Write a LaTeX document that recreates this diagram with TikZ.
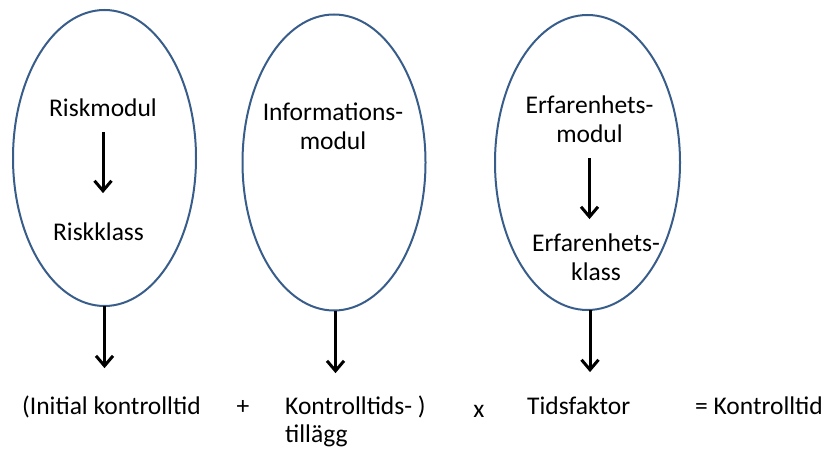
\documentclass[tikz,border=0pt]{standalone}
\usepackage{fontspec}
\setmainfont{Carlito}
\usetikzlibrary{shapes.geometric,arrows.meta}
\definecolor{ellblue}{RGB}{56,93,138}
\begin{document}
\begin{tikzpicture}[x=1pt,y=-1pt,
  mod/.style={ellipse,draw=ellblue,line width=2pt,inner sep=0pt,outer sep=0pt,minimum width=183pt,minimum height=296pt},
  lbl/.style={inner sep=0pt,font=\fontsize{25.5}{29}\selectfont,align=center},
  lbll/.style={inner sep=0pt,font=\fontsize{25.5}{28}\selectfont,align=left},
  arr/.style={line width=3pt,-{Straight Barb[length=10pt,width=17pt,line width=3pt]}}]
\useasboundingbox (0,0) rectangle (824,449);
\node[mod] (e1) at (104.5,158) {};
\node[mod] (e2) at (334,162.5) {};
\node[mod,minimum width=185pt,minimum height=295pt] (e3) at (587.5,162.5) {};

\node[lbl,anchor=base] (rm) at (103,117) {Riskmodul};
\node[lbl,anchor=base] (rk) at (98.5,240) {Riskklass};
\node[lbl,anchor=base] (im) at (333,150) {Informations-\\modul};
\node[lbl,anchor=base] (em) at (589.5,143) {Erfarenhets-\\modul};
\node[lbl,anchor=base] (ek) at (596,280) {Erfarenhets-\\klass};

\node[lbll,anchor=base west] (t1) at (22,414) {(Initial kontrolltid};
\node[lbl,anchor=base] (plus) at (243,414) {+};
\node[lbll,anchor=base west] (t2) at (285,442) {Kontrolltids- )\\tillägg};
\node[lbl,anchor=base] (times) at (479,417) {x};
\node[lbll,anchor=base west] (t3) at (527,414) {Tidsfaktor};
\node[lbll,anchor=base west] (t4) at (695,414) {= Kontrolltid};

\draw[arr,shorten <=15pt,shorten >=29pt] (rm.south) -- (rm.south |- rk.north);
\draw[arr,shorten <=15pt,shorten >=14pt] (em.south) -- (em.south |- ek.north);
\draw[arr,shorten >=27pt] (e1.south) -- (e1.south |- t1.north);
\draw[arr,shorten >=22pt] ([xshift=1.5pt]e2.south) -- ([xshift=1.5pt]e2.south |- t2.north);
\draw[arr,shorten >=24pt] ([xshift=2.5pt]e3.south) -- ([xshift=2.5pt]e3.south |- t3.north);
\end{tikzpicture}
\end{document}
